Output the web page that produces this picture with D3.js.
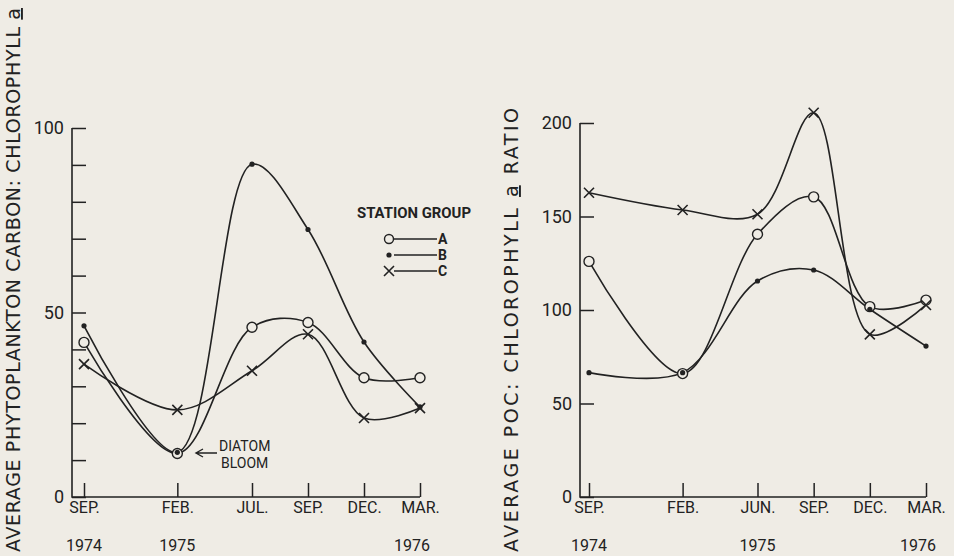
<!DOCTYPE html>
<html>
<head>
<meta charset="utf-8">
<script src="https://cdn.jsdelivr.net/npm/d3@7"></script>
<style>
  body { margin: 0; background: #efece5; }
  svg { display: block; background: #efece5; }
  text { font-family: Roboto, "Liberation Sans", sans-serif; fill: #222; }
</style>
</head>
<body>
<svg id="chart" width="954" height="556"></svg>
<script>
'use strict';

// months counted from Sep. 1974
const leftMonths = [0, 5, 9, 12, 15, 18];
const leftTickLabels = ['SEP.', 'FEB.', 'JUL.', 'SEP.', 'DEC.', 'MAR.'];
const leftYears = ['1974', '1975', '', '', '', '1976'];
const leftA = [41.9, 11.8, 46.0, 47.3, 32.3, 32.3];
const leftB = [46.4, 12.1, 90.2, 72.5, 42.0, 24.4];
const leftC = [36.0, 23.6, 34.2, 44.1, 21.4, 24.1];

const rightMonths = [0, 5, 9, 12, 15, 18];
const rightTickLabels = ['SEP.', 'FEB.', 'JUN.', 'SEP.', 'DEC.', 'MAR.'];
const rightYears = ['1974', '', '1975', '', '', '1976'];
const rightA = [126.0, 66.0, 140.5, 160.5, 101.8, 105.3];
const rightB = [66.5, 66.5, 115.5, 121.4, 100.4, 80.7];
const rightC = [162.7, 153.5, 151.2, 205.5, 87.0, 102.7];

const groups = ['A', 'B', 'C'];
const ink = '#222';

const svg = d3.select('#chart');

function drawMarker(g, type, x, y) {
  if (type === 'A') {
    g.append('circle').attr('cx', x).attr('cy', y).attr('r', 5)
      .attr('fill', '#efece5').attr('stroke', ink).attr('stroke-width', 1.4);
  } else if (type === 'B') {
    g.append('circle').attr('cx', x).attr('cy', y).attr('r', 2.6).attr('fill', ink);
  } else {
    const s = 5;
    g.append('path')
      .attr('d', `M${x - s},${y - s}L${x + s},${y + s}M${x - s},${y + s}L${x + s},${y - s}`)
      .attr('stroke', ink).attr('stroke-width', 1.6);
  }
}

function drawPanel(p) {
  const x = d3.scaleLinear().domain([0, 18]).range(p.xRange);
  const y = d3.scaleLinear().domain(p.yDomain).range([497, p.yTop]);
  const g = svg.append('g');

  // y axis, ticks pointing inwards
  const yAxis = g.append('g')
    .attr('transform', `translate(${p.axisX},0)`)
    .call(d3.axisLeft(y).tickValues(p.yTicks).tickSize(-14).tickPadding(8)
      .tickFormat(d => p.yLabels.includes(d) ? d : ''));
  yAxis.select('.domain').remove();
  yAxis.selectAll('line').attr('stroke', ink).attr('stroke-width', 1.5);
  yAxis.selectAll('text').attr('font-size', 18).attr('fill', ink);

  // x axis
  const xAxis = g.append('g')
    .attr('transform', `translate(0,${y(0)})`)
    .call(d3.axisBottom(x).tickValues(p.months).tickSize(-14).tickPadding(5)
      .tickFormat((d, i) => p.tickLabels[i]));
  xAxis.select('.domain').remove();
  xAxis.selectAll('line').attr('stroke', ink).attr('stroke-width', 1.5);
  xAxis.selectAll('text').attr('font-size', 16).attr('fill', ink);

  g.append('path')
    .attr('d', `M${p.axisX},${y(p.yDomain[1])}V${y(0)}H${x(18)}`)
    .attr('fill', 'none').attr('stroke', ink).attr('stroke-width', 1.6);

  g.selectAll('.year')
    .data(p.years)
    .join('text')
    .attr('class', 'year')
    .attr('x', (d, i) => x(p.months[i]) - (i === p.months.length - 1 ? 8 : 0))
    .attr('y', 551)
    .attr('text-anchor', 'middle')
    .attr('font-size', 16)
    .text(d => d);

  // y title
  const title = g.append('text')
    .attr('transform', `translate(${p.titleX},552) rotate(-90)`)
    .style('font-family', '"DejaVu Sans", sans-serif')
    .attr('font-size', 19)
    .attr('textLength', p.titleLength)
    .attr('lengthAdjust', 'spacing');
  title.append('tspan').text(p.title[0]);
  title.append('tspan').attr('text-decoration', 'underline').text('a');
  title.append('tspan').text(p.title[1]);

  const line = d3.line()
    .x((d, i) => x(p.months[i]))
    .y(d => y(d))
    .curve(d3.curveCatmullRom.alpha(0.5));

  p.series.forEach(values => {
    g.append('path')
      .datum(values)
      .attr('d', line)
      .attr('fill', 'none')
      .attr('stroke', ink)
      .attr('stroke-width', 1.6);
  });
  p.series.forEach((values, k) => {
    values.forEach((v, i) => drawMarker(g, groups[k], x(p.months[i]), y(v)));
  });
  return { x, y, g };
}

const left = drawPanel({
  xRange: [84, 420], yDomain: [0, 100], yTop: 128, axisX: 72,
  yTicks: d3.range(0, 101, 10), yLabels: [0, 50, 100],
  months: leftMonths, tickLabels: leftTickLabels, years: leftYears,
  series: [leftA, leftB, leftC],
  title: ['AVERAGE  PHYTOPLANKTON  CARBON: CHLOROPHYLL ', ''],
  titleX: 20, titleLength: 544
});

drawPanel({
  xRange: [589, 926], yDomain: [0, 200], yTop: 123, axisX: 580,
  yTicks: [0, 50, 100, 150, 200], yLabels: [0, 50, 100, 150, 200],
  months: rightMonths, tickLabels: rightTickLabels, years: rightYears,
  series: [rightA, rightB, rightC],
  title: ['AVERAGE  POC:  CHLOROPHYLL ', ' RATIO'],
  titleX: 518, titleLength: 444
});

// legend
const legend = svg.append('g');
legend.append('text').attr('x', 357).attr('y', 218)
  .attr('font-size', 14).attr('font-weight', 'bold')
  .attr('textLength', 114).attr('lengthAdjust', 'spacingAndGlyphs')
  .text('STATION GROUP');
groups.forEach((grp, i) => {
  const ly = 239 + i * 16;
  legend.append('line').attr('x1', 394).attr('x2', 437).attr('y1', ly).attr('y2', ly)
    .attr('stroke', ink).attr('stroke-width', 1.5);
  if (grp === 'A') {
    legend.append('circle').attr('cx', 389).attr('cy', ly).attr('r', 4.5)
      .attr('fill', 'none').attr('stroke', ink).attr('stroke-width', 1.4);
  } else {
    drawMarker(legend, grp, 389, ly);
  }
  legend.append('text').attr('x', 438).attr('y', ly + 5)
    .attr('font-size', 14).attr('font-weight', 'bold').text(grp);
});

// diatom bloom note
const note = left.g.append('g');
note.append('path')
  .attr('d', 'M217,453H196M203,449L196,453L203,457')
  .attr('fill', 'none').attr('stroke', ink).attr('stroke-width', 1.4);
note.append('text').attr('x', 219).attr('y', 451).attr('font-size', 14).text('DIATOM');
note.append('text').attr('x', 221).attr('y', 468).attr('font-size', 14).text('BLOOM');
</script>
</body>
</html>
